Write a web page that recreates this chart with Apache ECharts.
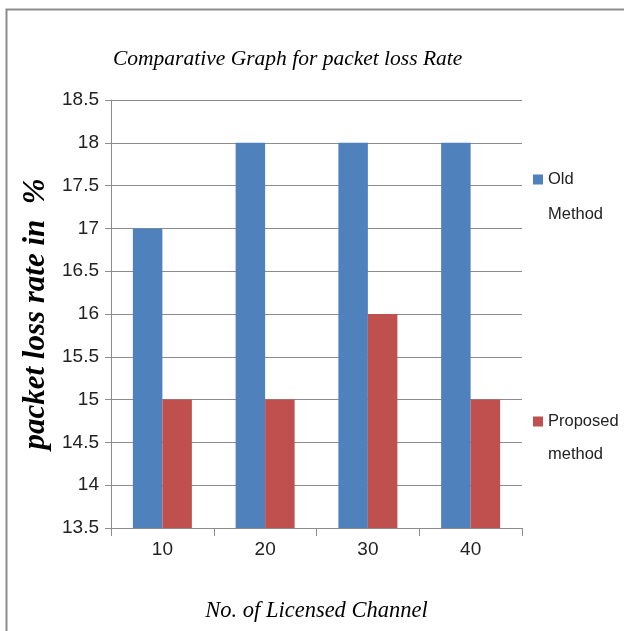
<!DOCTYPE html>
<html><head><meta charset="utf-8">
<script src="https://cdn.jsdelivr.net/npm/echarts@6/dist/echarts.min.js"></script>
<style>html,body{margin:0;padding:0;background:#fff}#c{width:624px;height:631px}</style>
</head><body><div id="c"></div>
<script>
var categories = ['10','20','30','40'];
var oldMethod = [17, 18, 18, 18];
var proposedMethod = [15, 15, 16, 15];
var seriesNames = ['Old\nMethod', 'Proposed\nmethod'];
var chart = echarts.init(document.getElementById('c'));
var sans = '"Liberation Sans",Arial,sans-serif';
var serif = '"Liberation Serif","Times New Roman",serif';
function legendFmt(n){ return '\n' + n; }
chart.setOption({
  animation:false,
  backgroundColor:'#fff',
  graphic:[{type:'rect',shape:{x:6.5,y:9.5,width:640,height:640},style:{fill:'none',stroke:'#8c8c8c',lineWidth:2}}],
  title:{text:'Comparative Graph for packet loss Rate',left:108,top:43,
    textStyle:{fontFamily:serif,fontStyle:'italic',fontWeight:'normal',fontSize:21.5,color:'#000'}},
  legend:[
    {data:[seriesNames[0]],left:528,top:122,orient:'vertical',itemWidth:10,itemHeight:10,icon:'rect',
     formatter:legendFmt,textStyle:{fontFamily:sans,fontSize:16.5,color:'#222',lineHeight:35}},
    {data:[seriesNames[1]],left:528,top:367,orient:'vertical',itemWidth:10,itemHeight:10,icon:'rect',
     formatter:legendFmt,textStyle:{fontFamily:sans,fontSize:16.5,color:'#222',lineHeight:33}}
  ],
  grid:{left:111,top:100,right:102,bottom:103,containLabel:false},
  xAxis:{type:'category',data:categories,
    name:'No. of Licensed Channel',nameLocation:'middle',nameGap:72,
    nameTextStyle:{fontFamily:serif,fontStyle:'italic',fontSize:22.5,color:'#000'},
    axisLine:{lineStyle:{color:'#8c8c8c',width:1}},
    axisTick:{show:true,length:8,lineStyle:{color:'#8c8c8c'}},
    axisLabel:{fontFamily:sans,fontSize:19,color:'#222',margin:12}},
  yAxis:{type:'value',min:13.5,max:18.5,interval:0.5,
    name:'packet loss rate in  %',nameLocation:'middle',nameGap:43,nameRotate:90,
    nameTextStyle:{fontFamily:serif,fontStyle:'italic',fontWeight:'bold',fontSize:31,color:'#000'},
    axisLine:{show:true,lineStyle:{color:'#8c8c8c'}},
    axisTick:{show:true,length:6,lineStyle:{color:'#8c8c8c'}},
    splitLine:{lineStyle:{color:'#8c8c8c',width:1}},
    axisLabel:{fontFamily:sans,fontSize:19,color:'#222',margin:12,
      formatter:function(v){return String(v);}}},
  series:[
    {name:seriesNames[0],type:'bar',data:oldMethod,barWidth:29.5,barGap:'0%',itemStyle:{color:'#4F81BD'}},
    {name:seriesNames[1],type:'bar',data:proposedMethod,barWidth:29.5,barGap:'0%',itemStyle:{color:'#C0504D'}}
  ]
});
</script></body></html>
